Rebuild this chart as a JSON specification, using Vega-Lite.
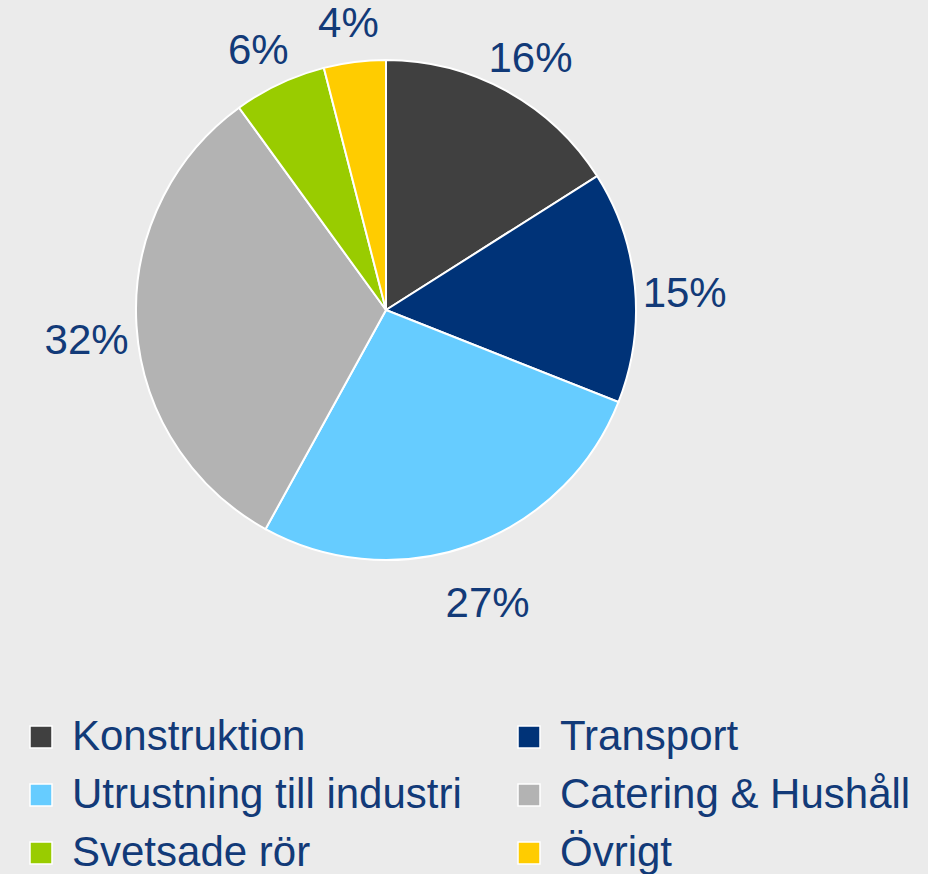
{
  "$schema": "https://vega.github.io/schema/vega-lite/v6.json",
  "autosize": {"type": "none"},
  "width": 772,
  "height": 620,
  "padding": {"left": 0, "top": 0, "right": 156, "bottom": 254},
  "background": "#ebebeb",
  "config": {"view": {"stroke": null}, "font": "Liberation Sans"},
  "data": {
    "values": [
      {"n": 1, "category": "Konstruktion", "value": 16, "label": "16%"},
      {"n": 2, "category": "Transport", "value": 15, "label": "15%"},
      {"n": 3, "category": "Utrustning till industri", "value": 27, "label": "27%"},
      {"n": 4, "category": "Catering & Hushåll", "value": 32, "label": "32%"},
      {"n": 5, "category": "Svetsade rör", "value": 6, "label": "6%"},
      {"n": 6, "category": "Övrigt", "value": 4, "label": "4%"}
    ]
  },
  "encoding": {
    "theta": {"field": "value", "type": "quantitative", "stack": true},
    "order": {"field": "n", "type": "quantitative"}
  },
  "layer": [
    {
      "mark": {"type": "arc", "radius": 250, "stroke": "#ffffff", "strokeWidth": 2},
      "encoding": {
        "color": {
          "field": "category",
          "type": "nominal",
          "sort": null,
          "scale": {
            "domain": ["Konstruktion", "Transport", "Utrustning till industri", "Catering & Hushåll", "Svetsade rör", "Övrigt"],
            "range": ["#404040", "#003378", "#66ccff", "#b3b3b3", "#99cc00", "#ffcc00"]
          },
          "legend": {
            "title": null,
            "orient": "none",
            "direction": "horizontal",
            "legendX": 20,
            "legendY": 716,
            "columns": 2,
            "columnPadding": 46,
            "rowPadding": 16,
            "symbolType": "square",
            "symbolSize": 484,
            "symbolStrokeColor": "#ffffff",
            "symbolStrokeWidth": 1.5,
            "symbolOffset": 0,
            "labelOffset": 10,
            "labelFont": "Liberation Sans",
            "labelFontSize": 42,
            "labelColor": "#123a78",
            "labelLimit": 600
          }
        }
      }
    },
    {
      "mark": {"type": "text", "radius": 300, "dy": 12, "font": "Liberation Sans", "fontSize": 42, "fill": "#123a78", "align": "center", "baseline": "middle"},
      "encoding": {
        "text": {"field": "label", "type": "nominal"}
      }
    }
  ]
}
